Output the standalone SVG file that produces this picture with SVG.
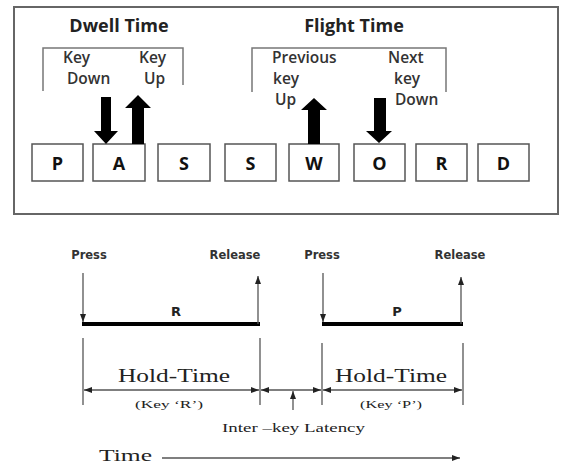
<svg xmlns="http://www.w3.org/2000/svg" width="561" height="465" viewBox="0 0 561 465">
<defs>
<style>
.title{font-family:"Open Sans","Liberation Sans",sans-serif;font-weight:700;font-size:18px;fill:#222;text-anchor:middle}
.lbl{font-family:"Open Sans","Liberation Sans",sans-serif;font-weight:600;font-size:15.5px;fill:#333}
.key rect{fill:#fff;stroke:#555;stroke-width:1.5}
.key text{font-family:"Open Sans","Liberation Sans",sans-serif;font-weight:700;font-size:18px;fill:#111;text-anchor:middle}
.brk{fill:none;stroke:#777;stroke-width:1.5}
.blk{fill:#000}
.ev{font-family:"DejaVu Sans","Liberation Sans",sans-serif;font-weight:700;font-size:11.5px;fill:#333;text-anchor:middle}
.bl{font-family:"DejaVu Sans","Liberation Sans",sans-serif;font-weight:700;font-size:13px;fill:#222;text-anchor:middle}
.ser{font-family:"Liberation Serif","Times New Roman",serif;fill:#222}
.thin{stroke:#555;stroke-width:1.3;fill:none}
.bar{stroke:#000;stroke-width:4}
</style>
<marker id="dim" viewBox="0 0 8 6" refX="8" refY="3" markerWidth="8" markerHeight="6" markerUnits="userSpaceOnUse" orient="auto-start-reverse">
<path d="M0,0 L8,3 L0,6 Z" fill="#222"/>
</marker>
<marker id="ah" viewBox="0 0 8 6" refX="8" refY="3" markerWidth="8" markerHeight="6" markerUnits="userSpaceOnUse" orient="auto">
<path d="M0,0 L8,3 L0,6 Z" fill="#222"/>
</marker>
</defs>
<rect x="0" y="0" width="561" height="465" fill="#fff"/>

<g id="top-frame">
<rect x="14" y="7" width="544" height="207" fill="none" stroke="#666" stroke-width="2"/>
</g>

<g id="dwell-title"><text class="title" x="119" y="32">Dwell Time</text></g>
<g id="flight-title"><text class="title" x="354" y="32">Flight Time</text></g>

<g id="dwell-bracket">
<path class="brk" d="M43,91 V48 H183 V85"/>
<text class="lbl" x="63" y="63">Key</text>
<text class="lbl" x="67" y="84">Down</text>
<text class="lbl" x="139" y="63">Key</text>
<text class="lbl" x="144" y="84">Up</text>
</g>

<g id="flight-bracket">
<path class="brk" d="M252,92 V48 H446 V92"/>
<text class="lbl" x="272" y="63">Previous</text>
<text class="lbl" x="273" y="84">key</text>
<text class="lbl" x="275" y="105">Up</text>
<text class="lbl" x="388" y="63">Next</text>
<text class="lbl" x="394" y="84">key</text>
<text class="lbl" x="395" y="105">Down</text>
</g>

<g id="key-P" class="key"><rect x="32" y="144" width="51" height="37"/><text x="57.5" y="170">P</text></g>
<g id="key-A" class="key"><rect x="93" y="144" width="52" height="37"/><text x="119" y="170">A</text></g>
<g id="key-S1" class="key"><rect x="158" y="144" width="52" height="37"/><text x="184" y="170">S</text></g>
<g id="key-S2" class="key"><rect x="225" y="144" width="51" height="37"/><text x="250.5" y="170">S</text></g>
<g id="key-W" class="key"><rect x="289" y="144" width="50" height="37"/><text x="314" y="170">W</text></g>
<g id="key-O" class="key"><rect x="354" y="144" width="51" height="37"/><text x="379.5" y="170">O</text></g>
<g id="key-R" class="key"><rect x="416" y="144" width="51" height="37"/><text x="441.5" y="170">R</text></g>
<g id="key-D" class="key"><rect x="478" y="144" width="51" height="37"/><text x="503.5" y="170">D</text></g>

<g id="block-arrows">
<polygon class="blk" points="101,97 111,97 111,131 118,131 106,144 94,131 101,131"/>
<polygon class="blk" points="132,144 144,144 144,108 151,108 138,95 125,108 132,108"/>
<polygon class="blk" points="308,144 320,144 320,110 327,110 314,98 301,110 308,110"/>
<polygon class="blk" points="374,98 386,98 386,131 392,131 379,143 366,131 374,131"/>
</g>

<g id="event-labels">
<text class="ev" x="89" y="259">Press</text>
<text class="ev" x="235" y="259">Release</text>
<text class="ev" x="322" y="259">Press</text>
<text class="ev" x="460" y="259">Release</text>
</g>

<g id="key-R-bar">
<line class="bar" x1="82" y1="324" x2="260" y2="324"/>
<text class="bl" x="176" y="316">R</text>
</g>
<g id="key-P-bar">
<line class="bar" x1="322" y1="324" x2="463" y2="324"/>
<text class="bl" x="397" y="316">P</text>
</g>

<g id="connectors">
<line class="thin" x1="83" y1="273" x2="83" y2="322" marker-end="url(#ah)"/>
<line class="thin" x1="258" y1="324" x2="258" y2="276" marker-end="url(#ah)"/>
<line class="thin" x1="323" y1="273" x2="323" y2="322" marker-end="url(#ah)"/>
<line class="thin" x1="461" y1="324" x2="461" y2="277" marker-end="url(#ah)"/>

<line class="thin" x1="83" y1="338" x2="83" y2="405"/>
<line class="thin" x1="260" y1="338" x2="260" y2="405"/>
<line class="thin" x1="322" y1="343" x2="322" y2="405"/>
<line class="thin" x1="463" y1="343" x2="463" y2="405"/>

<line class="thin" x1="84" y1="390" x2="259" y2="390" marker-start="url(#dim)" marker-end="url(#dim)"/>
<line class="thin" x1="261" y1="390" x2="321" y2="390" marker-start="url(#dim)" marker-end="url(#dim)"/>
<line class="thin" x1="323" y1="390" x2="462" y2="390" marker-start="url(#dim)" marker-end="url(#dim)"/>
<line class="thin" x1="293" y1="410" x2="293" y2="391" marker-end="url(#ah)"/>
<line class="thin" x1="162" y1="458" x2="460" y2="458" marker-end="url(#ah)"/>
</g>

<g id="hold-time-R">
<text class="ser" x="118" y="382" font-size="18" textLength="112" lengthAdjust="spacingAndGlyphs">Hold-Time</text>
<text class="ser" x="135" y="408" font-size="11" fill="#444" textLength="68" lengthAdjust="spacingAndGlyphs">(Key ‘R’)</text>
</g>
<g id="hold-time-P">
<text class="ser" x="335" y="382" font-size="18" textLength="112" lengthAdjust="spacingAndGlyphs">Hold-Time</text>
<text class="ser" x="360" y="408" font-size="11" fill="#444" textLength="62" lengthAdjust="spacingAndGlyphs">(Key ‘P’)</text>
</g>
<g id="latency-label">
<text class="ser" x="222" y="432" font-size="12.5" textLength="143" lengthAdjust="spacingAndGlyphs">Inter –key Latency</text>
</g>
<g id="time-label">
<text class="ser" x="99" y="461" font-size="17" textLength="53" lengthAdjust="spacingAndGlyphs">Time</text>
</g>
</svg>
